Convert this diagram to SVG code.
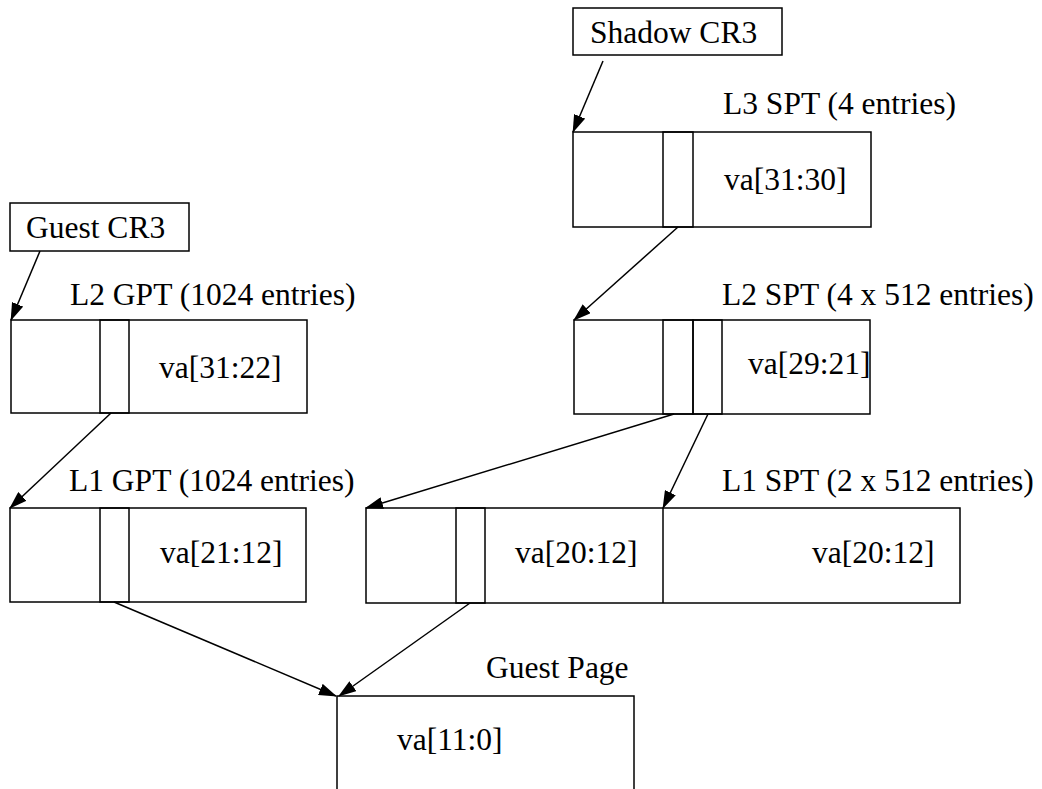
<svg xmlns="http://www.w3.org/2000/svg" width="1042" height="789" viewBox="0 0 1042 789">
<style>
rect,line.d{fill:none;stroke:#000;stroke-width:1.5}
text{font-size:31.5px;fill:#000}
.c line{stroke:#000;stroke-width:1.5;marker-end:url(#ah)}
</style>
<defs>
<marker id="ah" markerUnits="userSpaceOnUse" markerWidth="18" markerHeight="12" refX="17" refY="6" orient="auto" viewBox="0 0 18 12">
<path d="M0,0 L18,6 L0,12 z" fill="#000"/>
</marker>
</defs>
<rect x="0" y="0" width="1042" height="789" fill="#fff" style="stroke:none"/>
<g font-family="'Liberation Serif', 'DejaVu Serif', serif">
<g id="guest-cr3">
<rect x="10" y="203" width="179" height="48"/>
<text x="26" y="238">Guest CR3</text>
</g>
<g id="shadow-cr3">
<rect x="573" y="8" width="209" height="47"/>
<text x="590" y="43">Shadow CR3</text>
</g>
<g id="l3-spt">
<text x="723" y="114">L3 SPT (4 entries)</text>
<rect x="573" y="132" width="298" height="95"/>
<rect x="663" y="132" width="30" height="95"/>
<text x="724" y="190">va[31:30]</text>
</g>
<g id="l2-gpt">
<text x="70" y="305">L2 GPT (1024 entries)</text>
<rect x="11" y="320" width="296" height="93"/>
<rect x="100" y="320" width="29" height="93"/>
<text x="159" y="378">va[31:22]</text>
</g>
<g id="l2-spt">
<text x="722" y="305">L2 SPT (4 x 512 entries)</text>
<rect x="574" y="320" width="296" height="94"/>
<rect x="663" y="320" width="30" height="94"/>
<rect x="693" y="320" width="29" height="94"/>
<text x="748" y="374">va[29:21]</text>
</g>
<g id="l1-gpt">
<text x="69" y="491">L1 GPT (1024 entries)</text>
<rect x="10" y="508" width="296" height="94"/>
<rect x="100" y="508" width="29" height="94"/>
<text x="160" y="563">va[21:12]</text>
</g>
<g id="l1-spt">
<text x="722" y="491">L1 SPT (2 x 512 entries)</text>
<rect x="366" y="508" width="594" height="95"/>
<line class="d" x1="663" y1="508" x2="663" y2="603"/>
<rect x="456" y="508" width="29" height="95"/>
<text x="515" y="563">va[20:12]</text>
<text x="812" y="563">va[20:12]</text>
</g>
<g id="guest-page">
<text x="486" y="678">Guest Page</text>
<rect x="337" y="696" width="297" height="110"/>
<text x="397" y="750">va[11:0]</text>
</g>
</g>
<g id="connectors" class="c">
<line x1="40" y1="251" x2="11" y2="320"/>
<line x1="603" y1="61" x2="573" y2="132"/>
<line x1="678" y1="227" x2="574" y2="320"/>
<line x1="111" y1="413" x2="10" y2="508"/>
<line x1="674" y1="414" x2="366" y2="508"/>
<line x1="708" y1="414" x2="663" y2="508"/>
<line x1="114" y1="602" x2="336" y2="696"/>
<line x1="470" y1="603" x2="339" y2="696"/>
</g>
</svg>
